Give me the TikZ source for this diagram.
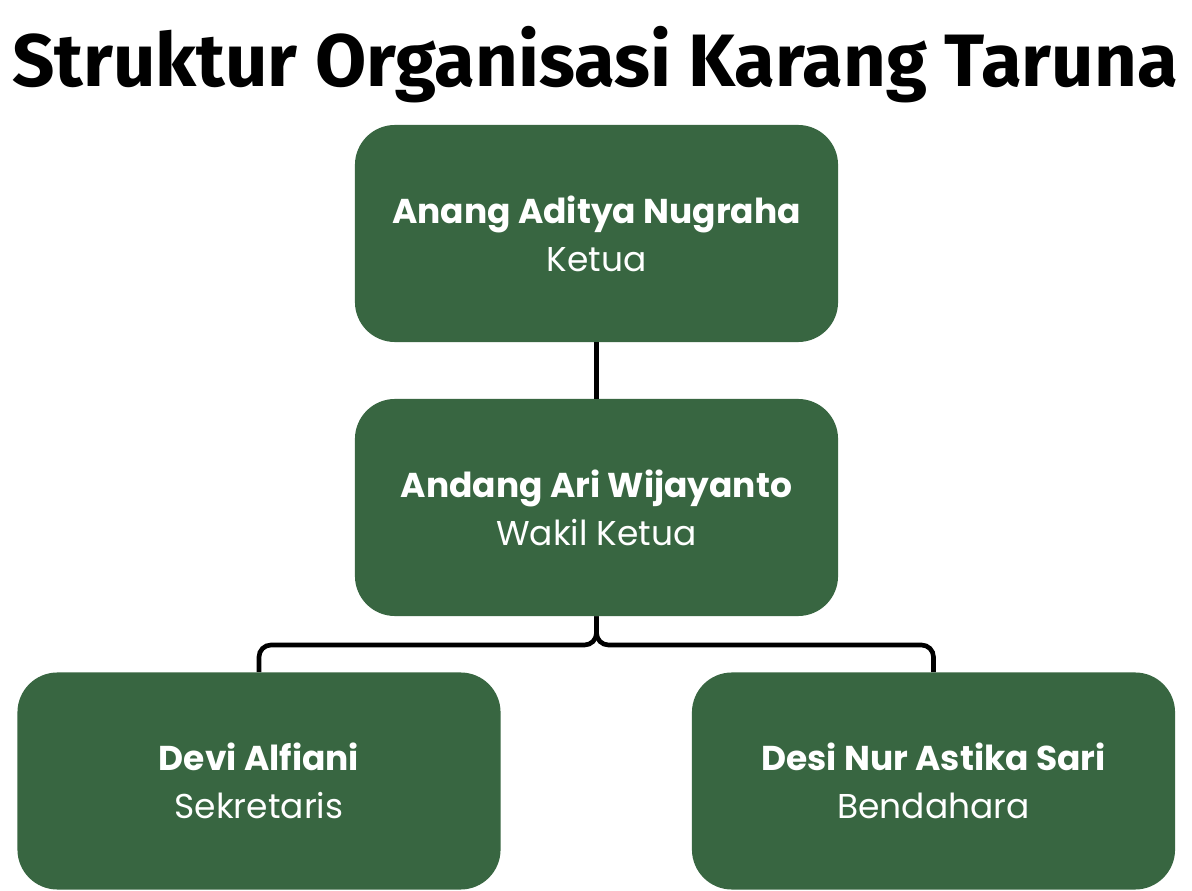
\documentclass[tikz,border=0pt]{standalone}
\usepackage{fontspec}
\setmainfont{Poppins}
\newfontfamily\titlefont{Fira Sans}
\usepackage{xcolor}
\usepackage{tikz}
\usetikzlibrary{positioning}
\definecolor{boxgreen}{HTML}{386641}
\definecolor{linkblack}{HTML}{000000}

\begin{document}
\begin{tikzpicture}[x=0.025cm, y=-0.025cm,
    member/.style={
        rectangle, rounded corners=1cm,
        fill=boxgreen, text=white,
        minimum width=12.075cm, minimum height=5.425cm,
        align=center, inner sep=0pt,
        font=\fontsize{24.5}{34}\selectfont,
    },
    link/.style={
        draw=linkblack, line width=3.3pt, rounded corners=0.3cm,
    },
]
\useasboundingbox[fill=white] (0,0) rectangle (1192,891);

% ── Title ────────────────────────────────────────────────────────────
\node[font=\titlefont\bfseries\fontsize{52.8}{56}\selectfont] (title) at (595,65)
    {Struktur Organisasi Karang Taruna};

% ── Members ──────────────────────────────────────────────────────────
\node[member] (ketua) at (596.5,233.5) {\textbf{Anang Aditya Nugraha}\\Ketua};
\node[member] (wakil) at (596.5,507.5) {\textbf{Andang Ari Wijayanto}\\Wakil Ketua};
\node[member] (sekretaris) at (259,781) {\textbf{Devi Alfiani}\\Sekretaris};
\node[member] (bendahara) at (933.5,781) {\textbf{Desi Nur Astika Sari}\\Bendahara};

% ── Connectors ───────────────────────────────────────────────────────
\coordinate (split) at (596.5,645);
\draw[link] (ketua) -- (wakil);
\draw[link] (wakil.south) -- (split) -| (sekretaris.north);
\draw[link] (wakil.south) -- (split) -| (bendahara.north);

\end{tikzpicture}
\end{document}
